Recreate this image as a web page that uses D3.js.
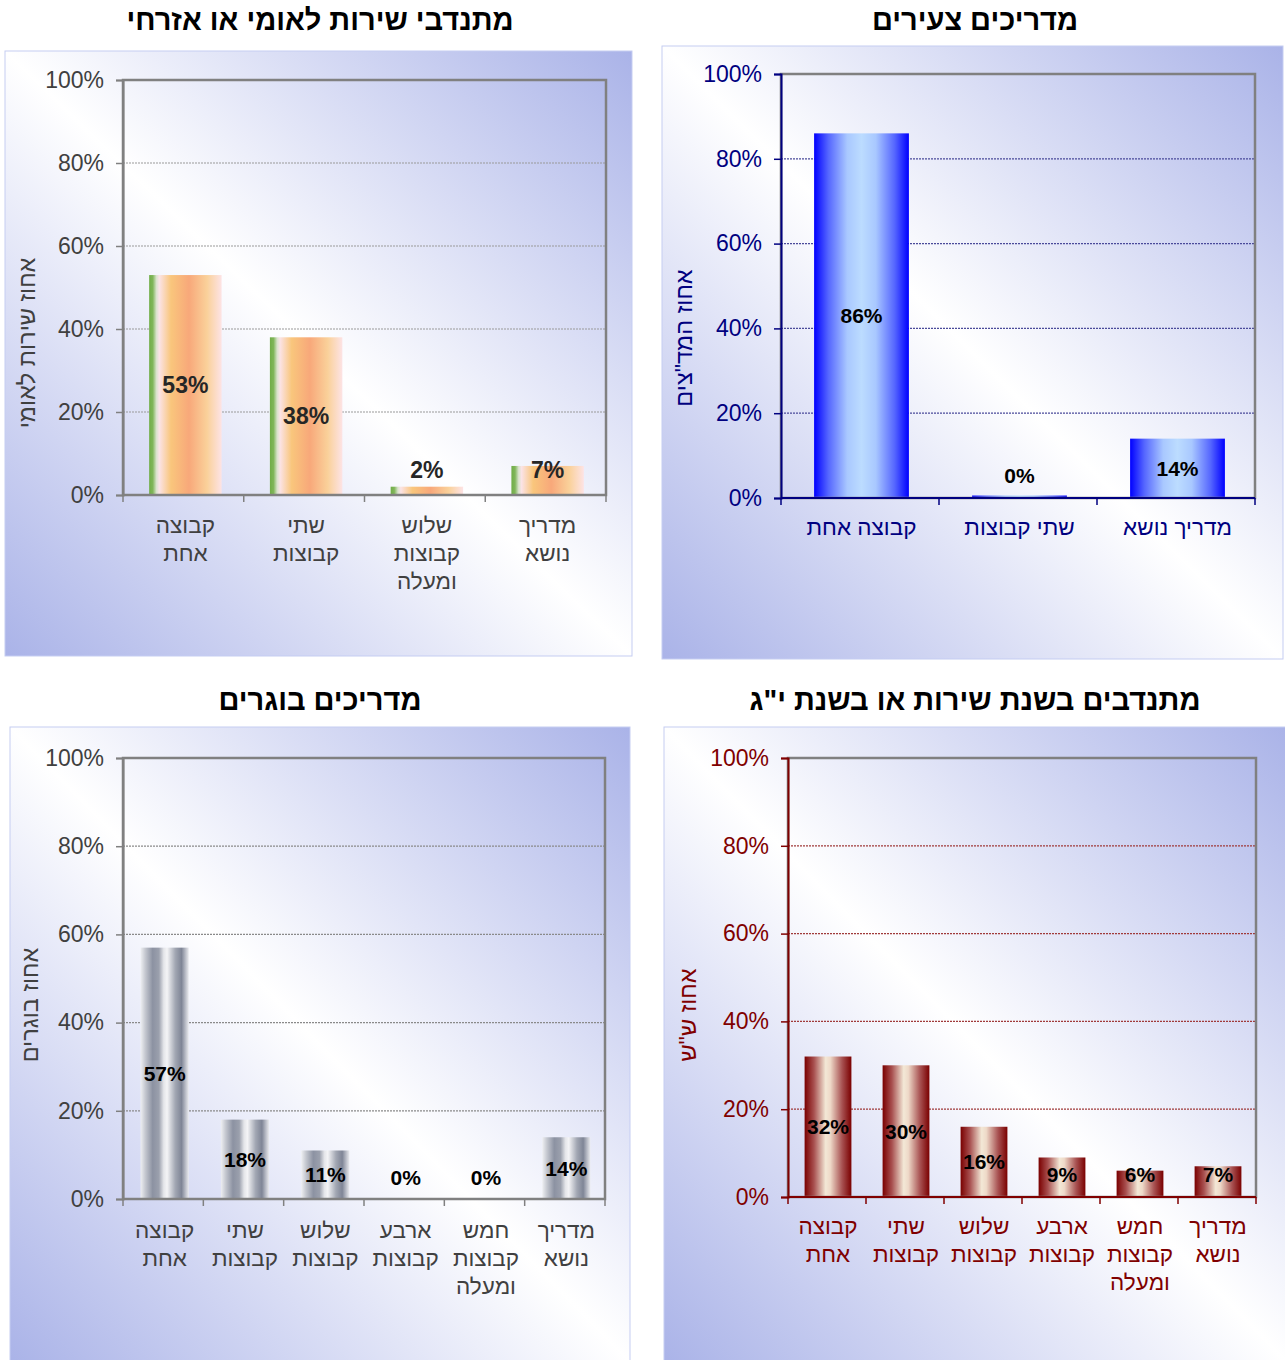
<!DOCTYPE html>
<html>
<head>
<meta charset="UTF-8">
<style>
  body { margin: 0; background: #fff; }
  svg text { font-family: "Liberation Sans", Arial, sans-serif; }
</style>
</head>
<body>
<svg></svg>
<script src="https://d3js.org/d3.v7.min.js"></script>
<script>

// ---- data ----
const yTicks = [0, 20, 40, 60, 80, 100];

const volTitle = "מתנדבי שירות לאומי או אזרחי";
const volAxis = "אחוז שירות לאומי";
const volCats = [["קבוצה", "אחת"], ["שתי", "קבוצות"], ["שלוש", "קבוצות", "ומעלה"], ["מדריך", "נושא"]];
const volValues = [53, 38, 2, 7];

const youngTitle = "מדריכים צעירים";
const youngAxis = "אחוז המד\"צים";
const youngCats = [["קבוצה אחת"], ["שתי קבוצות"], ["מדריך נושא"]];
const youngValues = [86, 0, 14];

const seniorTitle = "מדריכים בוגרים";
const seniorAxis = "אחוז בוגרים";
const sixCats = [["קבוצה", "אחת"], ["שתי", "קבוצות"], ["שלוש", "קבוצות"], ["ארבע", "קבוצות"], ["חמש", "קבוצות", "ומעלה"], ["מדריך", "נושא"]];
const seniorValues = [57, 18, 11, 0, 0, 14];

const yearTitle = "מתנדבים בשנת שירות או בשנת י\"ג";
const yearAxis = "אחוז ש\"ש";
const yearValues = [32, 30, 16, 9, 6, 7];

let width = 1285, height = 1360;
let svg = d3.select("svg").attr("width", width).attr("height", height);
let defs = svg.append("defs");

// panel background
let bg = defs.append("linearGradient").attr("id", "bg")
  .attr("x1", 1).attr("y1", 0).attr("x2", 0).attr("y2", 1);
bg.append("stop").attr("offset", 0).attr("stop-color", "#aab3e8");
bg.append("stop").attr("offset", 0.5).attr("stop-color", "#ffffff");
bg.append("stop").attr("offset", 1).attr("stop-color", "#aab3e8");

function barGrad(id, stops) {
  let g = defs.append("linearGradient").attr("id", id)
    .attr("x1", 0).attr("y1", 0).attr("x2", 1).attr("y2", 0);
  stops.forEach(s => g.append("stop").attr("offset", s[0]).attr("stop-color", s[1]));
}
barGrad("gOrange", [[0, "#70ad47"], [0.05, "#80b65a"], [0.1, "#d9e3cc"], [0.14, "#fbe3e6"], [0.3, "#f9c67c"], [0.55, "#f8a87a"], [0.8, "#fad19a"], [1, "#fde3e5"]]);
barGrad("gBlue", [[0, "#0000ff"], [0.15, "#5566ff"], [0.35, "#a9c8ff"], [0.5, "#bcdcff"], [0.65, "#a9c8ff"], [0.85, "#5566ff"], [1, "#0000ff"]]);
barGrad("gGray", [[0, "#eeeff2"], [0.1, "#c4c7cf"], [0.25, "#8c92a2"], [0.38, "#9ba0ad"], [0.48, "#e4e5e9"], [0.55, "#f4f4f6"], [0.72, "#a2a7b3"], [0.85, "#7f8596"], [1, "#eaebef"]]);
barGrad("gRed", [[0, "#7a0000"], [0.2, "#a85050"], [0.45, "#f3e8d6"], [0.55, "#eed9c8"], [0.8, "#a85252"], [1, "#7a0000"]]);

function drawPanel(p) {
  let g = svg.append("g");

  g.append("rect")
    .attr("x", p.box[0]).attr("y", p.box[1])
    .attr("width", p.box[2] - p.box[0]).attr("height", p.box[3] - p.box[1])
    .attr("fill", "url(#bg)").attr("stroke", "#c5cdf2").attr("stroke-width", 1);

  g.append("text")
    .attr("x", p.titleX).attr("y", p.titleY)
    .attr("text-anchor", "middle").attr("dominant-baseline", "central")
    .style("font-size", "29px").style("font-weight", "bold").attr("fill", "#000")
    .text(p.title);

  let x = d3.scaleBand().domain(d3.range(p.values.length))
    .range([p.plot[0], p.plot[2]]).paddingInner(0.4).paddingOuter(0.2);
  let y = d3.scaleLinear().domain([0, 100]).range([p.plot[3], p.plot[1]]);

  // gridlines
  g.selectAll(".grid").data(yTicks.filter(t => t > 0 && t < 100)).enter()
    .append("line")
    .attr("x1", p.plot[0]).attr("x2", p.plot[2])
    .attr("y1", d => y(d)).attr("y2", d => y(d))
    .attr("stroke", p.gridColor).attr("stroke-width", 1.2)
    .attr("stroke-dasharray", "2,1");

  // bars
  g.selectAll(".bar").data(p.values).enter()
    .append("rect")
    .attr("x", (d, i) => x(i) + p.barShift)
    .attr("width", x.bandwidth())
    .attr("y", d => Math.min(y(d), y(0) - (d === 0 ? p.zeroH : 0)))
    .attr("height", d => Math.max(y(0) - y(d), d === 0 ? p.zeroH : 0))
    .attr("fill", p.fill);

  // frame
  g.append("rect")
    .attr("x", p.plot[0]).attr("y", p.plot[1])
    .attr("width", p.plot[2] - p.plot[0]).attr("height", p.plot[3] - p.plot[1])
    .attr("fill", "none").attr("stroke", "#808080").attr("stroke-width", 2.5);

  // y axis
  let ya = g.append("g").attr("transform", "translate(" + p.plot[0] + ",0)")
    .call(d3.axisLeft(y).tickValues(yTicks).tickFormat(d => d + "%").tickSize(7).tickPadding(12));
  ya.select(".domain").attr("stroke", p.axisColor).attr("stroke-width", 2);
  ya.selectAll(".tick line").attr("stroke", p.axisColor).attr("stroke-width", 1.5);
  ya.selectAll(".tick text").attr("fill", p.textColor)
    .style("font-size", "23px").style("font-family", "\"Liberation Sans\", Arial, sans-serif");

  // x axis line + ticks at band edges
  g.append("line")
    .attr("x1", p.plot[0]).attr("x2", p.plot[2])
    .attr("y1", p.plot[3]).attr("y2", p.plot[3])
    .attr("stroke", p.axisColor).attr("stroke-width", 2);
  g.selectAll(".xt").data(d3.range(p.values.length + 1)).enter()
    .append("line")
    .attr("x1", i => p.plot[0] + i * x.step()).attr("x2", i => p.plot[0] + i * x.step())
    .attr("y1", p.plot[3]).attr("y2", p.plot[3] + 7)
    .attr("stroke", p.axisColor).attr("stroke-width", 1.5);

  // category labels
  p.cats.forEach((lines, i) => {
    let t = g.append("text")
      .attr("text-anchor", "middle")
      .attr("fill", p.textColor).style("font-size", "22.5px");
    lines.forEach((ln, k) => {
      t.append("tspan")
        .attr("x", x(i) + x.bandwidth() / 2 + p.barShift)
        .attr("y", p.plot[3] + p.catDy + k * 28)
        .attr("dominant-baseline", "central")
        .text(ln);
    });
  });

  // value labels
  g.selectAll(".val").data(p.values).enter()
    .append("text")
    .attr("x", (d, i) => x(i) + x.bandwidth() / 2 + p.barShift)
    .attr("y", d => Math.min((y(d) + y(0)) / 2, y(0) - p.lblMin))
    .attr("text-anchor", "middle").attr("dominant-baseline", "central")
    .style("font-size", p.valSize + "px").style("font-weight", "bold")
    .attr("fill", p.valColor)
    .text(d => d + "%");

  // y title
  g.append("text")
    .attr("transform", "translate(" + p.ytitle[0] + "," + p.ytitle[1] + ") rotate(-90)")
    .attr("text-anchor", "middle").attr("dominant-baseline", "central")
    .attr("fill", p.textColor).style("font-size", "23.5px")
    .text(p.axisTitle);
}

drawPanel({
  title: volTitle, axisTitle: volAxis, cats: volCats, values: volValues,
  box: [5, 51, 632, 656], titleX: 320, titleY: 20, plot: [123, 80, 606, 495], ytitle: [27, 343],
  fill: "url(#gOrange)", gridColor: "#9a9a9a", axisColor: "#808080", textColor: "#404040",
  valColor: "#262626", valSize: 23, lblMin: 25, catDy: 30, zeroH: 0, barShift: 2
});

drawPanel({
  title: youngTitle, axisTitle: youngAxis, cats: youngCats, values: youngValues,
  box: [662, 46, 1283, 659], titleX: 975, titleY: 20, plot: [781, 74, 1255, 498], ytitle: [684, 338],
  fill: "url(#gBlue)", gridColor: "#4a4a9a", axisColor: "#000080", textColor: "#000080",
  valColor: "#000", valSize: 21, lblMin: 23, catDy: 29, zeroH: 2.5, barShift: 1.5
});

drawPanel({
  title: seniorTitle, axisTitle: seniorAxis, cats: sixCats, values: seniorValues,
  box: [10, 727, 630, 1362], titleX: 320, titleY: 700, plot: [123, 758, 605, 1199], ytitle: [30, 1005],
  fill: "url(#gGray)", gridColor: "#8a8a8a", axisColor: "#808080", textColor: "#404040",
  valColor: "#000", valSize: 21, lblMin: 22, catDy: 31, zeroH: 0, barShift: 1.5
});

drawPanel({
  title: yearTitle, axisTitle: yearAxis, cats: sixCats, values: yearValues,
  box: [664, 727, 1287, 1362], titleX: 975, titleY: 700, plot: [788, 758, 1256, 1197], ytitle: [688, 1015],
  fill: "url(#gRed)", gridColor: "#a03a3a", axisColor: "#800000", textColor: "#800000",
  valColor: "#000", valSize: 21, lblMin: 23, catDy: 29, zeroH: 0, barShift: 1
});

</script>
</body>
</html>
